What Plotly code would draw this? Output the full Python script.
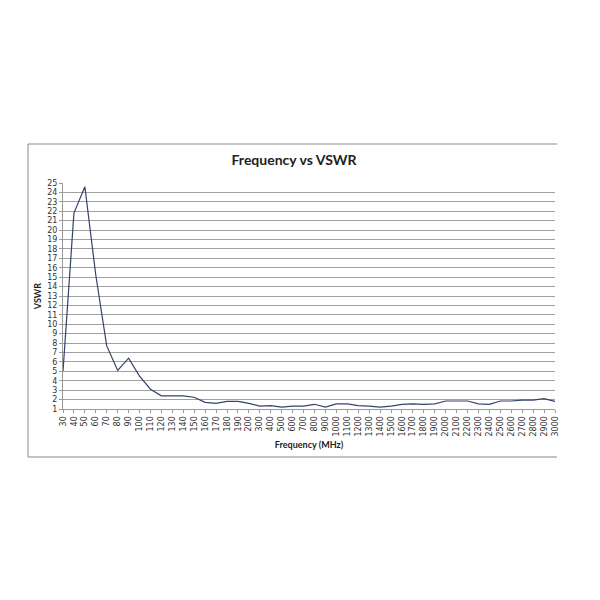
import plotly.graph_objects as go

freq_labels = ["30", "40", "50", "60", "70", "80", "90", "100", "110", "120", "130", "140",
               "150", "160", "170", "180", "190", "200", "300", "400", "500", "600", "700",
               "800", "900", "1000", "1100", "1200", "1300", "1400", "1500", "1600", "1700",
               "1800", "1900", "2000", "2100", "2200", "2300", "2400", "2500", "2600", "2700",
               "2800", "2900", "3000"]
vswr = [5.0, 21.8, 24.6, 15.2, 7.7, 5.1, 6.4, 4.5, 3.1, 2.4, 2.4, 2.4,
        2.25, 1.7, 1.6, 1.8, 1.8, 1.6, 1.3, 1.35, 1.2, 1.3, 1.3,
        1.5, 1.2, 1.55, 1.55, 1.35, 1.3, 1.2, 1.3, 1.5, 1.55,
        1.5, 1.55, 1.85, 1.85, 1.85, 1.55, 1.5, 1.85, 1.85, 1.95,
        1.95, 2.1, 1.8]
y_ticks = list(range(1, 26))

# page has an 8px body margin, so figure coords = reference coords - 8
L, T, R, B = 55, 175, 547, 401
W = R - L
H = B - T

fig = go.Figure()
fig.add_trace(go.Scatter(x=freq_labels, y=vswr, mode="lines",
                         line=dict(color="#34426e", width=1.2), showlegend=False))

tick_font = dict(family="DejaVu Sans", size=8, color="#333333")
fig.update_layout(
    width=600, height=600, autosize=False,
    paper_bgcolor="white", plot_bgcolor="white",
    margin=dict(l=L, r=600 - R, t=T, b=600 - B, pad=0),
    title=dict(text="<b>Frequency vs VSWR</b>", x=(286 - L) / W, xanchor="center",
               xref="paper", y=1 - 152 / 600, yanchor="middle",
               font=dict(family="Lato", size=14, color="#222222")),
    xaxis=dict(type="category", tickangle=-90, tickfont=tick_font, automargin=False,
               showgrid=False, showline=True, linecolor="#999999", linewidth=1,
               ticks="outside", ticklen=3, tickcolor="#999999",
               title=dict(text="<b>Frequency (MHz)</b>", standoff=6,
                          font=dict(family="Lato", size=9, color="#222222"))),
    yaxis=dict(range=[1, 25], tickvals=y_ticks, tickfont=tick_font, automargin=False,
               showgrid=True, gridcolor="#a0a0a0", gridwidth=1,
               showline=True, linecolor="#999999", linewidth=1,
               ticks="outside", ticklen=3, tickcolor="#999999", zeroline=False,
               title=dict(text="<b>VSWR</b>", standoff=4,
                          font=dict(family="Lato", size=9, color="#222222"))),
)

# outer chart frame (top, left, bottom edges)
frame = dict(type="line", xref="paper", yref="paper", line=dict(color="#888888", width=1))
x0 = (20 - L) / W
x1 = (549 - L) / W
ytop = (B - 136) / H
ybot = (B - 449) / H
fig.add_shape(x0=x0, x1=x1, y0=ytop, y1=ytop, **frame)
fig.add_shape(x0=x0, x1=x0, y0=ybot, y1=ytop, **frame)
fig.add_shape(x0=x0, x1=x1, y0=ybot, y1=ybot, **frame)

fig.write_html("out.html")
